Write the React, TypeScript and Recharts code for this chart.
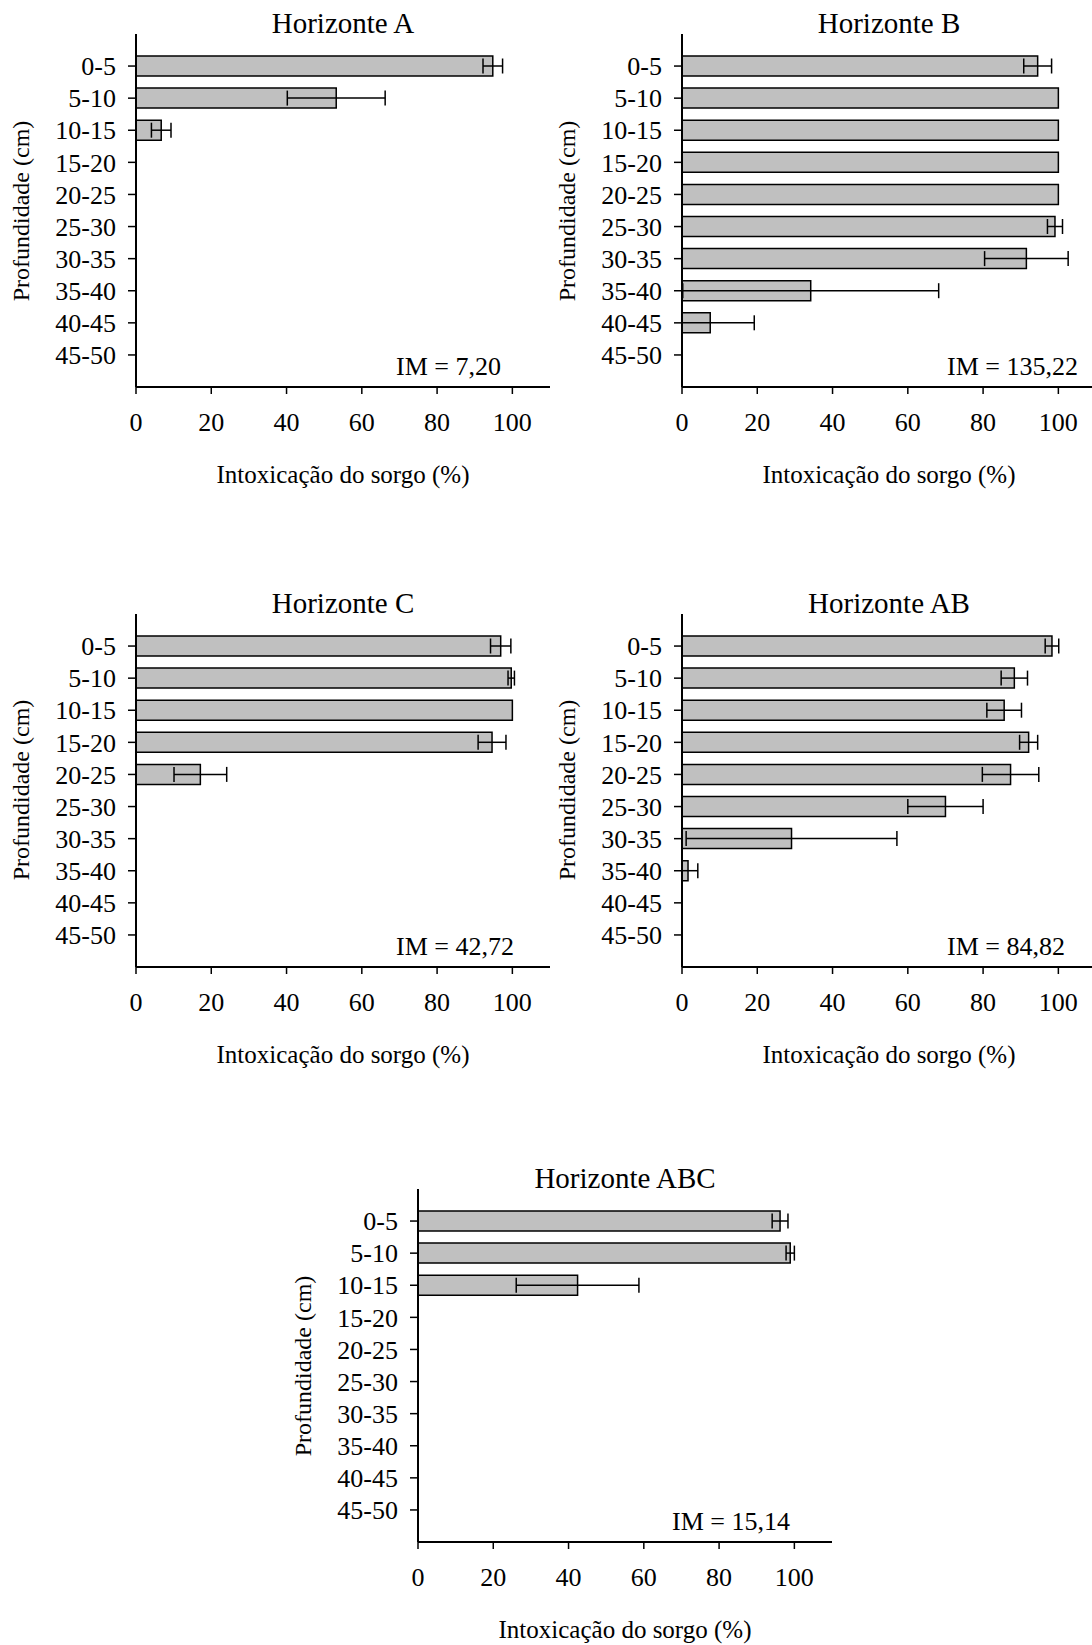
import React from 'react';
import { BarChart, Bar, XAxis, YAxis, ErrorBar } from 'recharts';

const depths = ['0-5', '5-10', '10-15', '15-20', '20-25', '25-30', '30-35', '35-40', '40-45', '45-50'];
const xTicks = [0, 20, 40, 60, 80, 100];

const valuesA = [94.8, 53.2, 6.7, null, null, null, null, null, null, null];
const errorsA = [2.6, 13.0, 2.6, null, null, null, null, null, null, null];

const valuesB = [94.5, 100, 100, 100, 100, 99.1, 91.5, 34.2, 7.5, null];
const errorsB = [3.7, null, null, null, null, 2.0, 11.1, 34.0, 11.7, null];

const valuesC = [96.9, 99.7, 100, 94.6, 17.1, null, null, null, null, null];
const errorsC = [2.7, 0.85, null, 3.7, 7.0, null, null, null, null, null];

const valuesAB = [98.3, 88.3, 85.6, 92.1, 87.3, 70.0, 29.1, 1.6, null, null];
const errorsAB = [1.8, 3.5, 4.6, 2.4, 7.5, 10.0, 28.0, 2.6, null, null];

const valuesABC = [96.2, 98.9, 42.4, null, null, null, null, null, null, null];
const errorsABC = [2.1, 1.1, 16.3, null, null, null, null, null, null, null];

const FONT = '"Liberation Serif", "Times New Roman", serif';
const PLOT_W = 414;
const PLOT_H = 353;

type PanelProps = {
  title: string;
  im: string;
  values: (number | null)[];
  errors: (number | null)[];
  plotLeft: number;
  plotTop: number;
  imOffset: number;
};

function buildRows(values: (number | null)[], errors: (number | null)[]) {
  return depths.map((d, i) => {
    const v = values[i];
    const e = errors[i];
    return {
      depth: d,
      v,
      err: v == null || e == null ? null : [Math.min(e, v), e],
    };
  });
}

function Panel({ title, im, values, errors, plotLeft, plotTop, imOffset }: PanelProps) {
  const data = buildRows(values, errors);
  const chartLeft = plotLeft - 136;
  const chartTop = plotTop - 34;
  const textBase: React.CSSProperties = {
    position: 'absolute',
    fontFamily: FONT,
    color: '#000',
    whiteSpace: 'nowrap',
    lineHeight: 1,
  };
  return (
    <>
      <div style={{ position: 'absolute', left: chartLeft, top: chartTop }}>
        <BarChart
          width={560}
          height={460}
          data={data}
          layout="vertical"
          margin={{ top: 34, right: 10, bottom: 33, left: 36 }}
          barCategoryGap={0}
        >
          <XAxis
            type="number"
            domain={[0, 110]}
            ticks={xTicks}
            height={40}
            tickSize={7}
            tickMargin={19}
            axisLine={{ stroke: '#000', strokeWidth: 2 }}
            tickLine={{ stroke: '#000', strokeWidth: 1.5 }}
            tick={{ fill: '#000', fontSize: 26, fontFamily: FONT }}
            allowDataOverflow
          />
          <YAxis
            type="category"
            dataKey="depth"
            width={100}
            padding={{ top: 16, bottom: 16 }}
            tickSize={8}
            tickMargin={12}
            interval={0}
            axisLine={{ stroke: '#000', strokeWidth: 2 }}
            tickLine={{ stroke: '#000', strokeWidth: 1.5 }}
            tick={{ fill: '#000', fontSize: 26, fontFamily: FONT }}
          />
          <Bar
            dataKey="v"
            fill="#c0c0c0"
            stroke="#000"
            strokeWidth={1.5}
            barSize={20}
            isAnimationActive={false}
          >
            <ErrorBar
              dataKey="err"
              direction="x"
              width={7.5}
              stroke="#000"
              strokeWidth={1.5}
              isAnimationActive={false}
            />
          </Bar>
        </BarChart>
      </div>
      <div
        style={{
          ...textBase,
          fontSize: 29,
          left: plotLeft + PLOT_W / 2,
          top: plotTop - 11,
          transform: 'translate(-50%, -50%)',
        }}
      >
        {title}
      </div>
      <div
        style={{
          ...textBase,
          fontSize: 25,
          left: plotLeft + PLOT_W / 2,
          top: plotTop + PLOT_H + 87,
          transform: 'translate(-50%, -50%)',
        }}
      >
        Intoxicação do sorgo (%)
      </div>
      <div
        style={{
          ...textBase,
          fontSize: 24,
          left: plotLeft - 115,
          top: plotTop + PLOT_H / 2,
          transform: 'translate(-50%, -50%) rotate(-90deg)',
        }}
      >
        Profundidade (cm)
      </div>
      <div
        style={{
          ...textBase,
          fontSize: 26,
          left: plotLeft + imOffset,
          top: plotTop + PLOT_H - 20,
          transform: 'translate(0, -50%)',
        }}
      >
        {im}
      </div>
    </>
  );
}

export default function App() {
  return (
    <div
      style={{
        position: 'absolute',
        left: 0,
        top: 0,
        width: 1092,
        height: 1645,
        overflow: 'hidden',
        background: '#fff',
      }}
    >
      <Panel title="Horizonte A" im="IM = 7,20" values={valuesA} errors={errorsA} plotLeft={136} plotTop={34} imOffset={260} />
      <Panel title="Horizonte B" im="IM = 135,22" values={valuesB} errors={errorsB} plotLeft={682} plotTop={34} imOffset={265} />
      <Panel title="Horizonte C" im="IM = 42,72" values={valuesC} errors={errorsC} plotLeft={136} plotTop={613.5} imOffset={260} />
      <Panel title="Horizonte AB" im="IM = 84,82" values={valuesAB} errors={errorsAB} plotLeft={682} plotTop={613.5} imOffset={265} />
      <Panel title="Horizonte ABC" im="IM = 15,14" values={valuesABC} errors={errorsABC} plotLeft={418} plotTop={1189} imOffset={254} />
    </div>
  );
}
